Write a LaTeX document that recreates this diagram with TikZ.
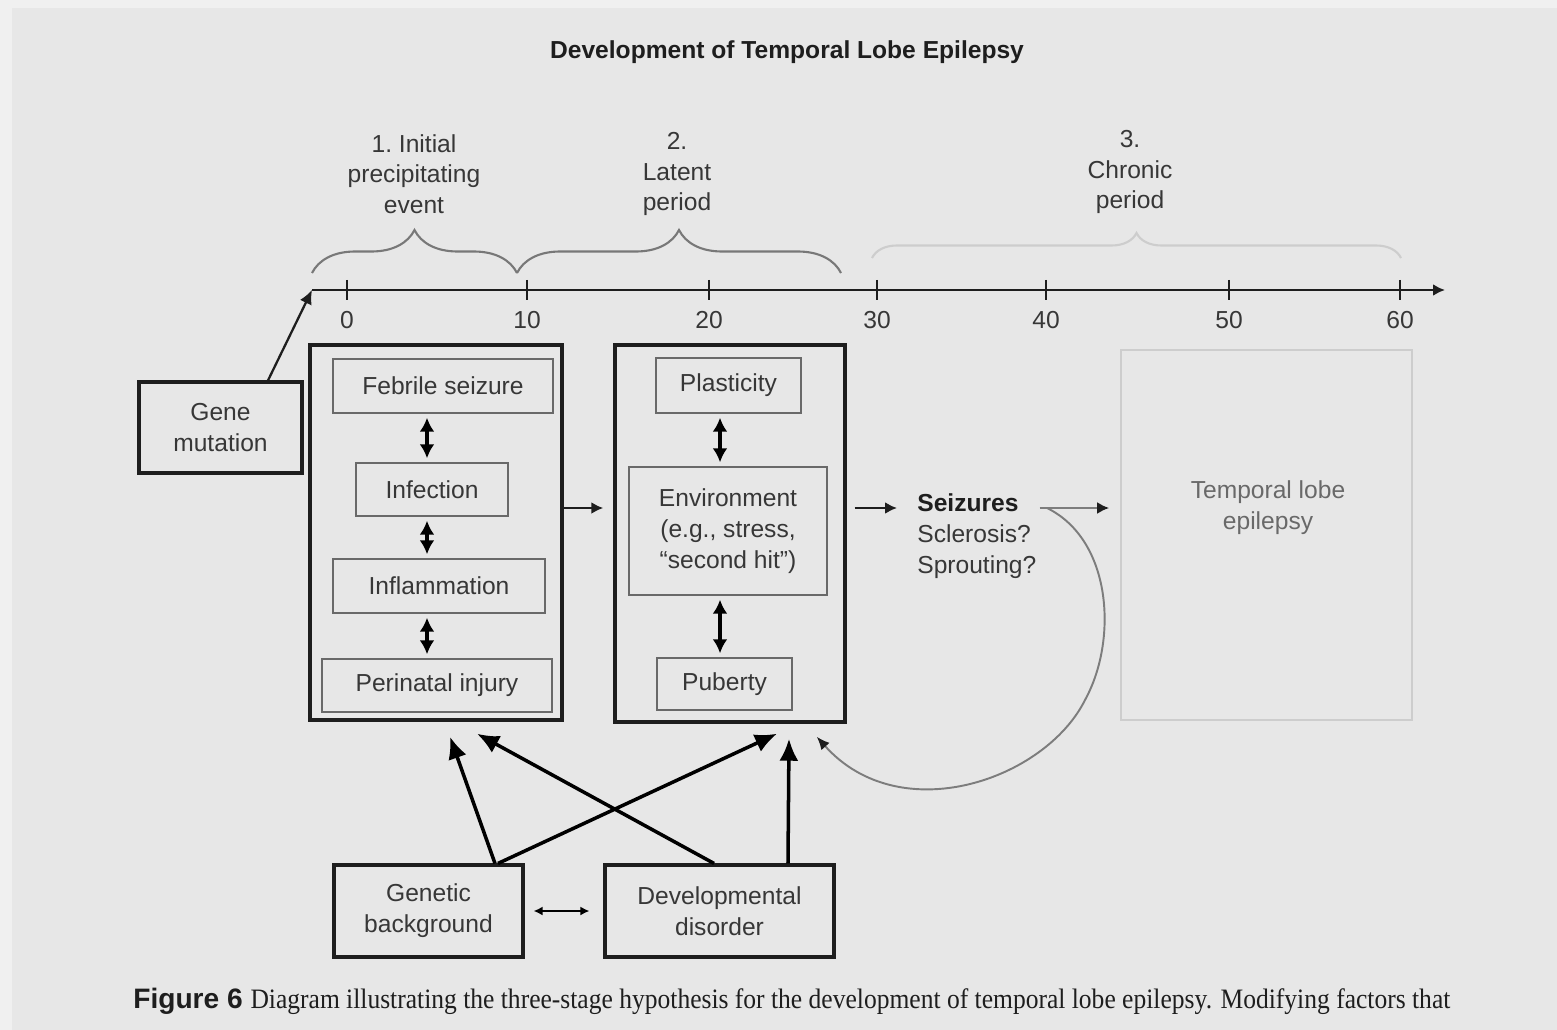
\documentclass[tikz,border=0pt]{standalone}
\usepackage{fontspec}
\setmainfont{Liberation Sans}
\newfontfamily\capfont{Liberation Serif}
\usetikzlibrary{arrows.meta, decorations.pathreplacing}
\definecolor{bg}{RGB}{231,231,231}
\definecolor{bgedge}{RGB}{240,240,240}
\definecolor{ink}{RGB}{30,30,30}
\definecolor{txt}{RGB}{55,55,55}
\definecolor{boxgray}{RGB}{105,105,105}
\definecolor{bracegray}{RGB}{120,120,120}
\definecolor{curvegray}{RGB}{125,125,125}
\definecolor{faint}{RGB}{205,205,205}

\begin{document}
\begin{tikzpicture}
        [x=0.02cm, y=-0.02cm, >={Latex[length=2.4mm,width=2.4mm]},
         every node/.style={font=\fontsize{14}{17.5}\selectfont, text=txt},
         outer/.style={draw=ink, line width=2pt},
         inner/.style={draw=boxgray, line width=1.4pt, align=center},
         factor/.style={draw=ink, line width=1.8pt, align=center},
         link/.style={<->, line width=2pt, >={Latex[length=2.8mm,width=3mm]}},
         up/.style={->, line width=2pt, >={Latex[length=4.4mm,width=3.8mm]}},
         flow/.style={->, draw=ink, line width=1.3pt},
         brace/.style={decorate, decoration={brace, amplitude=0.86cm}, draw=bracegray, line width=1.2pt}]
        \fill[bgedge] (0,0) rectangle (1557,1030);
        \fill[bg] (12,8) rectangle (1557,1030);
        \useasboundingbox (0,0) rectangle (1557,1030);

        \node[font=\bfseries\fontsize{14}{17}\selectfont, text=ink] (title) at (787,52) {Development of Temporal Lobe Epilepsy};

        % time axis
        \coordinate (tstart) at (312,290);
        \coordinate (tend) at (1445,290);
        \draw[->, draw=ink, line width=1.6pt] (tstart) -- (tend);
        \draw[ink, line width=1.2pt] (347,280) -- (347,300);
        \draw[ink, line width=1.2pt] (527,280) -- (527,300);
        \draw[ink, line width=1.2pt] (709,280) -- (709,300);
        \draw[ink, line width=1.2pt] (877,280) -- (877,300);
        \draw[ink, line width=1.2pt] (1046,280) -- (1046,300);
        \draw[ink, line width=1.2pt] (1229,280) -- (1229,300);
        \draw[ink, line width=1.2pt] (1400,280) -- (1400,300);
        \node (t0) at (347,320) {0};
        \node (t10) at (527,320) {10};
        \node (t20) at (709,320) {20};
        \node (t30) at (877,320) {30};
        \node (t40) at (1046,320) {40};
        \node (t50) at (1229,320) {50};
        \node (t60) at (1400,320) {60};

        % stages
        \draw[brace] (312,273) -- (517,273);
        \draw[brace] (517,273) -- (841,273);
        \draw[brace, draw=faint, decoration={amplitude=0.5cm}] (872,258) -- (1401,258);
        \node[align=center] (stage1) at (414,174) {1.\ Initial\\precipitating\\event};
        \node[align=center] (stage2) at (677,174) {2.\\Latent\\period};
        \node[align=center] (stage3) at (1130,172) {3.\\Chronic\\period};

        % boxes
        \node[factor, minimum width=3.26cm, minimum height=1.82cm] (gene) at (220.5,427.5) {Gene\\mutation};
        \node[outer, minimum width=5.04cm, minimum height=7.5cm] (box1) at (436,532.5) {};
        \node[inner, minimum width=4.4cm, minimum height=1.08cm] (febrile) at (443,386) {Febrile seizure};
        \node[inner, minimum width=3.04cm, minimum height=1.06cm] (infection) at (432,489.5) {Infection};
        \node[inner, minimum width=4.24cm, minimum height=1.08cm] (inflam) at (439,586) {Inflammation};
        \node[inner, minimum width=4.6cm, minimum height=1.06cm] (perinatal) at (437,685.5) {Perinatal injury};
        \node[outer, minimum width=4.6cm, minimum height=7.54cm] (box2) at (730,533.5) {};
        \node[inner, minimum width=2.9cm, minimum height=1.1cm] (plasticity) at (728.5,385.5) {Plasticity};
        \node[inner, minimum width=3.96cm, minimum height=2.56cm] (env) at (728,531) {Environment\\(e.g., stress,\\``second hit'')};
        \node[inner, minimum width=2.7cm, minimum height=1.04cm] (puberty) at (724.5,684) {Puberty};
        \node[align=left, anchor=west, inner sep=0pt] (seiz) at (917,536) {\textbf{\color{ink}Seizures}\\Sclerosis?\\Sprouting?};
        \node[draw=faint, line width=1pt, minimum width=5.82cm, minimum height=7.4cm] (tle) at (1266.5,535) {};
        \node[align=center, text=boxgray] (tletext) at (1268,508) {Temporal lobe\\epilepsy};
        \node[factor, minimum width=3.78cm, minimum height=1.84cm] (gen) at (428.5,911) {Genetic\\background};
        \node[factor, minimum width=4.58cm, minimum height=1.84cm] (dev) at (719.5,911) {Developmental\\disorder};

        \coordinate (col1) at (427,0);
        \coordinate (col2) at (720,0);
        \coordinate (row) at (0,508);
        \coordinate (loopstart) at (1047,508);

        \draw[->, draw=ink, line width=1.3pt, >={Latex[length=2.8mm,width=2.6mm]}] ([xshift=0.95cm]gene.north) -- (tstart);

        \path [link] (febrile.south -| col1) edge [shorten <=2pt, shorten >=2pt] (infection.north -| col1);
        \path [link] (infection.south -| col1) edge [shorten <=2pt, shorten >=2pt] (inflam.north -| col1);
        \path [link] (inflam.south -| col1) edge [shorten <=2pt, shorten >=2pt] (perinatal.north -| col1);
        \path [link] (plasticity.south -| col2) edge [shorten <=2pt, shorten >=2pt] (env.north -| col2);
        \path [link] (env.south -| col2) edge [shorten <=2pt, shorten >=2pt] (puberty.north -| col2);

        \draw[flow, shorten >=0.2cm] (box1.east |- row) -- (box2.west |- row);
        \draw[flow, shorten <=0.16cm, shorten >=0.4cm] (box2.east |- row) -- (seiz.west |- row);
        \draw[flow, draw=curvegray, shorten <=0.06cm, shorten >=0.22cm, >={Latex[length=2.4mm,width=2.4mm,color=ink]}] (seiz.east |- row) -- (tle.west |- row);
        \draw[->, draw=curvegray, line width=1.1pt, >={Latex[length=2.6mm,width=2.2mm,color=ink]}] (loopstart) .. controls (1112,540) and (1118,640) .. (1085,700) .. controls (1045,780) and (900,830) .. ([xshift=-0.6cm,yshift=-0.26cm]box2.south east);

        \draw[up] ([xshift=1.33cm]gen.north) -- ([xshift=0.28cm,yshift=-0.3cm]box1.south);
        \draw[up] ([xshift=1.39cm]gen.north) -- ([xshift=0.94cm,yshift=-0.2cm]box2.south);
        \draw[up] ([xshift=-0.11cm]dev.north) -- ([xshift=0.82cm,yshift=-0.24cm]box1.south);
        \draw[up] ([xshift=1.37cm]dev.north) -- ([xshift=1.18cm,yshift=-0.3cm]box2.south);
        \path [<->, line width=1.2pt, >={Latex[length=1.8mm,width=1.8mm]}] (gen.east) edge [shorten <=0.18cm, shorten >=0.28cm] (dev.west);

        \node[anchor=base west, inner sep=0pt, text=ink] (caption) at (133,1008) {\fontsize{16}{19}\selectfont\bfseries Figure 6\ \resizebox{24cm}{\height}{\capfont\mdseries\fontsize{16}{19}\selectfont Diagram illustrating the three-stage hypothesis for the development of temporal lobe epilepsy. Modifying factors that}};
    \end{tikzpicture}
\end{document}
